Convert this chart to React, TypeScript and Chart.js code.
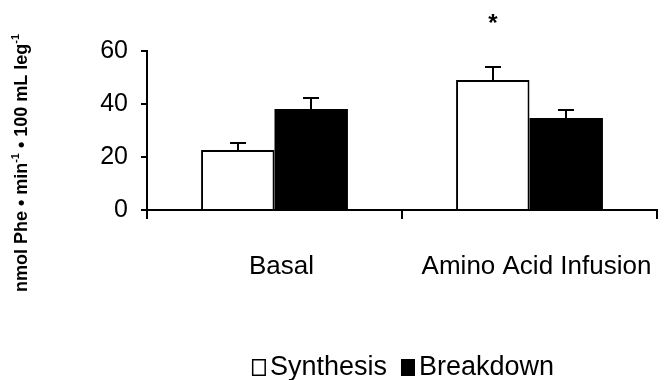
import React, { useEffect, useRef } from "react";
import { Chart, registerables } from "chart.js";

Chart.register(...registerables);

const categories = ["Basal", "Amino Acid Infusion"];
const seriesNames = ["Synthesis", "Breakdown"];
const synthesis = [22.6, 49.1];
const synthesisErr = [2.8, 4.7];
const breakdown = [38.1, 34.7];
const breakdownErr = [4.1, 3.1];
const synthesisSig = ["", "*"];
const breakdownSig = ["", ""];
const yTicks = [0, 20, 40, 60];
const yTitleParts = [
  { t: "nmol Phe • min", sup: false },
  { t: "-1", sup: true },
  { t: " • 100 mL leg", sup: false },
  { t: "-1", sup: true },
];

const FONT = '"Liberation Sans", Arial, Helvetica, sans-serif';

const errorBarPlugin = {
  id: "errorBars",
  afterDatasetsDraw(chart: any) {
    const ctx = chart.ctx;
    const yScale = chart.scales.y;
    ctx.save();
    ctx.strokeStyle = "#000";
    ctx.lineWidth = 2;
    chart.data.datasets.forEach((ds: any, i: number) => {
      const meta = chart.getDatasetMeta(i);
      meta.data.forEach((el: any, j: number) => {
        const v = ds.data[j];
        const e = ds.errors[j];
        const x = Math.round(el.x);
        const yBar = yScale.getPixelForValue(v);
        const yTop = Math.round(yScale.getPixelForValue(v + e));
        ctx.beginPath();
        ctx.moveTo(x, yBar);
        ctx.lineTo(x, yTop);
        ctx.moveTo(x - 8, yTop);
        ctx.lineTo(x + 8, yTop);
        ctx.stroke();
        const s = ds.sig[j];
        if (s) {
          ctx.fillStyle = "#000";
          ctx.font = `bold 24px ${FONT}`;
          ctx.textAlign = "center";
          ctx.textBaseline = "alphabetic";
          ctx.fillText(s, x, yTop - 36);
        }
      });
    });
    ctx.restore();
  },
};

const yTitlePlugin = {
  id: "yTitle",
  afterDraw(chart: any) {
    const ctx = chart.ctx;
    ctx.save();
    const main = `bold 18px ${FONT}`;
    const sup = `bold 11px ${FONT}`;
    let total = 0;
    yTitleParts.forEach((p) => {
      ctx.font = p.sup ? sup : main;
      total += ctx.measureText(p.t).width;
    });
    ctx.translate(27, 163);
    ctx.rotate(-Math.PI / 2);
    ctx.fillStyle = "#000";
    ctx.textAlign = "left";
    ctx.textBaseline = "alphabetic";
    let x = -total / 2;
    yTitleParts.forEach((p) => {
      ctx.font = p.sup ? sup : main;
      ctx.fillText(p.t, x, p.sup ? -8 : 0);
      x += ctx.measureText(p.t).width;
    });
    ctx.restore();
  },
};

const legendPlugin = {
  id: "customLegend",
  afterDraw(chart: any) {
    const ctx = chart.ctx;
    const area = chart.chartArea;
    ctx.save();
    ctx.font = `27px ${FONT}`;
    const boxW = 14;
    const boxH = 17;
    const gap = 4;
    const spacing = 14;
    const items = chart.data.datasets.map((ds: any) => ({
      label: ds.label,
      fill: ds.backgroundColor,
      w: ctx.measureText(ds.label).width,
    }));
    let total = 0;
    items.forEach((it: any, i: number) => {
      total += boxW + gap + it.w + (i < items.length - 1 ? spacing : 0);
    });
    let x = (area.left + area.right) / 2 + 1 - total / 2;
    const baseline = 375;
    items.forEach((it: any) => {
      ctx.fillStyle = it.fill;
      ctx.fillRect(x, baseline - boxH + 1, boxW, boxH);
      ctx.strokeStyle = "#000";
      ctx.lineWidth = 1.5;
      ctx.strokeRect(x + 0.75, baseline - boxH + 1.75, boxW - 1.5, boxH - 1.5);
      x += boxW + gap;
      ctx.fillStyle = "#000";
      ctx.textAlign = "left";
      ctx.textBaseline = "alphabetic";
      ctx.fillText(it.label, x, baseline);
      x += it.w + spacing;
    });
    ctx.restore();
  },
};

export default function App() {
  const ref = useRef<HTMLCanvasElement | null>(null);
  useEffect(() => {
    if (!ref.current) return;
    const chart = new Chart(ref.current, {
      type: "bar",
      data: {
        labels: categories,
        datasets: [
          {
            label: seriesNames[0],
            data: synthesis,
            errors: synthesisErr,
            sig: synthesisSig,
            backgroundColor: "#ffffff",
            borderColor: "#000000",
            borderWidth: 2,
          } as any,
          {
            label: seriesNames[1],
            data: breakdown,
            errors: breakdownErr,
            sig: breakdownSig,
            backgroundColor: "#000000",
            borderColor: "#000000",
            borderWidth: 0,
          } as any,
        ],
      },
      options: {
        responsive: false,
        animation: false,
        maintainAspectRatio: false,
        layout: { padding: { left: 0, top: 51, right: 8, bottom: 0 } },
        datasets: { bar: { barPercentage: 1, categoryPercentage: 0.576 } },
        plugins: {
          legend: { display: false },
          tooltip: { enabled: false },
          title: { display: false },
        },
        scales: {
          x: {
            afterFit: (s: any) => {
              s.height = 170;
              s.paddingLeft = 0;
              s.paddingRight = 0;
            },
            border: { color: "#000", width: 2 },
            grid: {
              display: true,
              drawOnChartArea: false,
              drawTicks: true,
              tickLength: 9,
              color: "#000",
              lineWidth: 2,
            },
            ticks: {
              color: "#000",
              font: { family: FONT, size: 26 },
              padding: 32,
              maxRotation: 0,
              labelOffset: 7,
            },
          },
          y: {
            min: 0,
            max: 60,
            afterFit: (s: any) => {
              s.width = 147;
              s.paddingTop = 0;
              s.paddingBottom = 0;
            },
            afterBuildTicks: (s: any) => {
              s.ticks = yTicks.map((v) => ({ value: v }));
            },
            border: { color: "#000", width: 2 },
            grid: {
              display: true,
              drawOnChartArea: false,
              drawTicks: true,
              tickLength: 6,
              color: "#000",
              lineWidth: 2,
            },
            ticks: {
              color: "#000",
              font: { family: FONT, size: 25 },
              padding: 13,
            },
          },
        },
      },
      plugins: [errorBarPlugin, yTitlePlugin, legendPlugin],
    });
    return () => chart.destroy();
  }, []);
  return (
    <div style={{ position: "absolute", left: 0, top: 0, width: 665, height: 380, background: "#fff" }}>
      <canvas ref={ref} width={665} height={380} style={{ width: 665, height: 380, display: "block" }} />
    </div>
  );
}
